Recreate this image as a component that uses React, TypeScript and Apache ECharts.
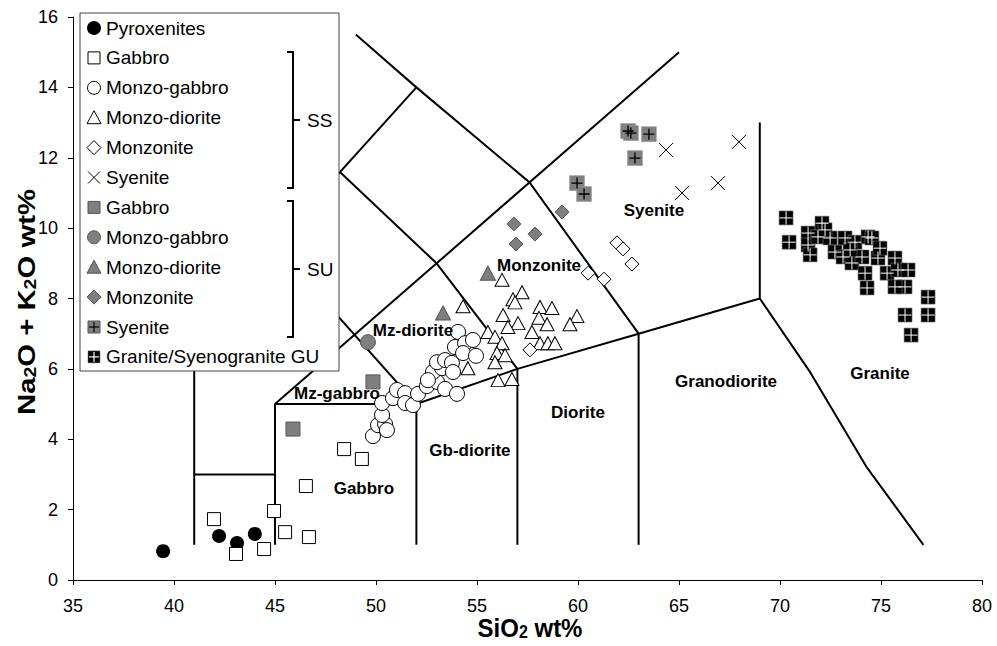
import React, { useEffect, useRef } from "react";
import * as echarts from "echarts";

// Axis ticks
const xTicks = [35, 40, 45, 50, 55, 60, 65, 70, 75, 80];
const yTicks = [0, 2, 4, 6, 8, 10, 12, 14, 16];

// Sample data [SiO2, Na2O+K2O]
const pyroxenites = [[39.46, 0.82], [42.23, 1.25], [43.12, 1.05], [44.0, 1.31]];
const gabbroSS = [[41.98, 1.73], [43.07, 0.74], [44.46, 0.88], [44.95, 1.96], [45.5, 1.36], [46.68, 1.22], [46.53, 2.67], [48.42, 3.72], [49.3, 3.44]];
const monzoGabbroSS = [
  [49.85, 4.09], [50.1, 4.4], [50.45, 4.43], [50.54, 4.26], [50.3, 4.69], [50.3, 5.03], [50.84, 5.17], [51.04, 5.4],
  [51.44, 5.31], [51.44, 5.03], [51.83, 4.97], [52.08, 5.29], [52.52, 5.51], [53.02, 5.63], [53.42, 5.43], [54.01, 5.29],
  [52.82, 5.91], [53.27, 6.02], [53.02, 6.19], [53.42, 6.25], [53.76, 6.17], [53.91, 6.62], [54.06, 7.05], [54.41, 6.73],
  [54.8, 6.82], [54.31, 6.45], [54.95, 6.37], [53.81, 5.91], [52.57, 5.68]];
const monzoDioriteSS = [
  [56.24, 8.53], [57.23, 8.18], [56.78, 7.98], [56.88, 7.89], [54.31, 7.78], [58.12, 7.76], [58.71, 7.73], [59.95, 7.5],
  [56.29, 7.53], [55.54, 7.05], [57.03, 7.3], [56.53, 7.19], [58.07, 7.45], [58.47, 7.27], [59.6, 7.27], [57.72, 7.05],
  [55.89, 6.91], [56.24, 6.73], [58.12, 6.73], [58.51, 6.73], [58.86, 6.73], [55.99, 6.45], [56.39, 6.39], [55.89, 6.19],
  [54.55, 6.02], [56.04, 5.68], [56.73, 5.71]];
const monzoniteSS = [[61.93, 9.58], [62.23, 9.41], [62.67, 8.98], [60.5, 8.72], [61.29, 8.55], [57.62, 6.54]];
const syeniteSS = [[64.36, 12.22], [65.15, 11.0], [66.93, 11.28], [67.97, 12.45]];
const gabbroSU = [[45.89, 4.29], [49.85, 5.63]];
const monzoGabbroSU = [[49.6, 6.76]];
const monzoDioriteSU = [[53.32, 7.59], [55.54, 8.72]];
const monzoniteSU = [[56.83, 10.12], [57.87, 9.83], [56.93, 9.55], [59.21, 10.46]];
const syeniteSU = [[62.48, 12.76], [62.62, 12.7], [63.51, 12.67], [62.82, 11.99], [59.95, 11.28], [60.3, 10.97]];
const graniteGU = [
  [70.3, 10.29], [70.45, 9.6], [71.39, 9.86], [71.39, 9.52], [71.49, 9.24], [72.08, 10.14], [71.88, 9.75], [72.48, 9.72],
  [72.72, 9.32], [73.12, 9.18], [73.22, 9.72], [73.56, 9.01], [73.71, 9.6], [74.36, 9.75], [74.55, 9.72], [74.06, 9.18],
  [74.21, 8.72], [74.31, 8.3], [74.85, 9.15], [75.3, 8.72], [75.69, 9.15], [75.84, 8.81], [76.34, 8.81], [76.19, 8.33],
  [75.69, 8.33], [77.33, 8.04], [77.33, 7.53], [76.19, 7.53], [76.49, 6.96], [74.95, 9.43], [72.23, 9.95], [73.47, 9.38]];

// Classification field boundaries (polylines)
const fieldLines = [
  [[41, 1], [41, 7]],
  [[41, 3], [45, 3]],
  [[45, 1], [45, 5], [52, 5]],
  [[52, 1], [52, 5], [57, 6], [63, 7], [69, 8]],
  [[57, 1], [57, 6]],
  [[63, 1], [63, 7]],
  [[69, 13], [69, 8], [71.5, 5.9], [74.3, 3.2], [77.1, 1]],
  [[45, 5], [65, 15]],
  [[52, 5], [45, 9.5]],
  [[57, 6], [53, 9], [48.2, 11.6]],
  [[63, 7], [57.6, 11.3], [52, 14], [49, 15.5]],
  [[41, 7], [52, 14]],
];

// Field names
const fieldNames = ["Mz-diorite", "Mz-gabbro", "Gabbro", "Gb-diorite", "Diorite", "Granodiorite", "Granite", "Monzonite", "Syenite"];
const fieldNameX = [51.83, 48.07, 49.4, 54.65, 60.0, 67.33, 74.95, 58.07, 63.76];
const fieldNameY = [7.08, 5.31, 2.61, 3.67, 4.77, 5.63, 5.88, 8.95, 10.51];

// Legend
const legendLabels = ["Pyroxenites", "Gabbro", "Monzo-gabbro", "Monzo-diorite", "Monzonite", "Syenite", "Gabbro", "Monzo-gabbro", "Monzo-diorite", "Monzonite", "Syenite", "Granite/Syenogranite GU"];
const legendMarkers = ["circleBlack", "squareOpen", "circleOpen", "triOpen", "diaOpen", "cross", "squareGrey", "circleGrey", "triGrey", "diaGrey", "squareGreyPlus", "squareBlackPlus"];
const groupLabels = ["SS", "SU"];

const GREY = "#7f7f7f";
const GREY_B = "#555";
const FONT = "Liberation Sans, Arial, sans-serif";

function scatter(data: number[][], symbol: string, size: any, fill: string, stroke: string, bw: number, z: number) {
  return {
    type: "scatter",
    data,
    symbol,
    symbolSize: size,
    silent: true,
    z,
    itemStyle: { color: fill, borderColor: stroke, borderWidth: bw, opacity: 1 },
    emphasis: { disabled: true },
  };
}

function legendMarker(kind: string, cx: number, cy: number): any[] {
  const z = 101;
  const s = 6;
  const out: any[] = [];
  const isGrey = kind.indexOf("Grey") >= 0;
  const fill = isGrey ? GREY : "#fff";
  const stroke = isGrey ? GREY_B : "#000";
  if (kind === "circleBlack") out.push({ type: "circle", z, shape: { cx, cy, r: 7 }, style: { fill: "#000" } });
  if (kind === "circleOpen" || kind === "circleGrey") out.push({ type: "circle", z, shape: { cx, cy, r: 6.5 }, style: { fill, stroke, lineWidth: 1 } });
  if (kind === "squareOpen" || kind === "squareGrey" || kind === "squareGreyPlus") out.push({ type: "rect", z, shape: { x: cx - s, y: cy - s, width: 2 * s, height: 2 * s }, style: { fill, stroke, lineWidth: 1 } });
  if (kind === "squareBlackPlus") out.push({ type: "rect", z, shape: { x: cx - s, y: cy - s, width: 2 * s, height: 2 * s }, style: { fill: "#000", stroke: "#666", lineWidth: 0.5 } });
  if (kind === "triOpen" || kind === "triGrey") out.push({ type: "polygon", z, shape: { points: [[cx, cy - 7], [cx + 7, cy + 6], [cx - 7, cy + 6]] }, style: { fill, stroke, lineWidth: 1 } });
  if (kind === "diaOpen" || kind === "diaGrey") out.push({ type: "polygon", z, shape: { points: [[cx, cy - 7], [cx + 7, cy], [cx, cy + 7], [cx - 7, cy]] }, style: { fill, stroke, lineWidth: 1 } });
  if (kind === "cross") {
    out.push({ type: "line", z, shape: { x1: cx - 6, y1: cy - 6, x2: cx + 6, y2: cy + 6 }, style: { stroke: "#000", lineWidth: 1 } });
    out.push({ type: "line", z, shape: { x1: cx + 6, y1: cy - 6, x2: cx - 6, y2: cy + 6 }, style: { stroke: "#000", lineWidth: 1 } });
  }
  if (kind === "squareGreyPlus" || kind === "squareBlackPlus") {
    const c = kind === "squareGreyPlus" ? "#000" : "#fff";
    out.push({ type: "line", z: 102, shape: { x1: cx - 5, y1: cy, x2: cx + 5, y2: cy }, style: { stroke: c, lineWidth: 1.2 } });
    out.push({ type: "line", z: 102, shape: { x1: cx, y1: cy - 5, x2: cx, y2: cy + 5 }, style: { stroke: c, lineWidth: 1.2 } });
  }
  return out;
}

function bracket(top: number, bottom: number, label: string): any[] {
  const z = 101;
  const x = 293;
  const mid = (top + bottom) / 2;
  return [
    { type: "polyline", z, shape: { points: [[287, top], [x, top], [x, bottom], [287, bottom]] }, style: { stroke: "#000", lineWidth: 2, fill: "none" } },
    { type: "line", z, shape: { x1: x, y1: mid, x2: 300, y2: mid }, style: { stroke: "#000", lineWidth: 2 } },
    { type: "text", z, x: 307, y: mid, style: { text: label, font: `19px ${FONT}`, fill: "#000", verticalAlign: "middle", align: "left" } },
  ];
}

export default function App() {
  const ref = useRef<HTMLDivElement>(null);
  useEffect(() => {
    if (!ref.current) return;
    const chart = echarts.init(ref.current, null, { renderer: "svg" });

    const lineSeries = fieldLines.map((pts) => ({
      type: "line",
      data: pts,
      showSymbol: false,
      symbol: "none",
      silent: true,
      z: 1,
      lineStyle: { color: "#000", width: 2 },
      emphasis: { disabled: true },
    }));

    const plusPath = "path://M5,0L5,10M0,5L10,5";

    const series: any[] = [
      ...lineSeries,
      scatter(pyroxenites, "circle", 14, "#000", "#000", 0, 3),
      scatter(gabbroSS, "rect", 13, "#fff", "#000", 1, 3),
      scatter(monzoGabbroSS, "circle", 15, "#fff", "#000", 1, 3),
      scatter(monzoDioriteSS, "triangle", [14, 13], "#fff", "#000", 1, 3),
      scatter(monzoniteSS, "diamond", 14, "#fff", "#000", 1, 3),
      scatter(syeniteSS, "path://M0,0L10,10M10,0L0,10", 14, "none", "#000", 1, 3),
      scatter(gabbroSU, "rect", 14, GREY, GREY_B, 1, 3),
      scatter(monzoGabbroSU, "circle", 15, GREY, GREY_B, 1, 3),
      scatter(monzoDioriteSU, "triangle", [15, 14], GREY, GREY_B, 1, 3),
      scatter(monzoniteSU, "diamond", 14, GREY, GREY_B, 1, 3),
      scatter(syeniteSU, "rect", 15, GREY, "#9a9a9a", 0.5, 3),
      scatter(syeniteSU, plusPath, 11, "none", "#000", 1.3, 4),
      scatter(graniteGU, "rect", 14, "#000", "#777", 0.6, 3),
      scatter(graniteGU, plusPath, 13, "none", "#fff", 1, 4),
    ];

    const legendEls: any[] = [
      { type: "rect", z: 100, shape: { x: 80, y: 13, width: 259, height: 358 }, style: { fill: "#fff", stroke: "#444", lineWidth: 1 } },
    ];
    legendLabels.forEach((lab, i) => {
      const yy = 28 + 29.9 * i;
      legendEls.push(...legendMarker(legendMarkers[i], 94, yy));
      legendEls.push({ type: "text", z: 101, x: 106, y: yy, style: { text: lab, font: `19px ${FONT}`, fill: "#000", verticalAlign: "middle", align: "left" } });
    });
    legendEls.push(...bracket(52, 188, groupLabels[0]));
    legendEls.push(...bracket(201, 337, groupLabels[1]));

    const titleRich = {
      a: { fontSize: 24, fontWeight: "bold", fontFamily: FONT, fill: "#000", lineHeight: 24, verticalAlign: "bottom" },
      s: { fontSize: 16, fontWeight: "bold", fontFamily: FONT, fill: "#000", lineHeight: 16, verticalAlign: "bottom" },
    };

    const titles: any[] = [
      {
        type: "text", z: 101, x: 530, y: 628, scaleY: 1.1,
        style: { text: "{a|SiO}{s|2}{a| wt%}", rich: titleRich, align: "center", verticalAlign: "middle" },
      },
      {
        type: "text", z: 101, x: 27, y: 302, rotation: Math.PI / 2, scaleX: 1.22,
        style: { text: "{a|Na}{s|2}{a|O + K}{s|2}{a|O wt%}", rich: titleRich, align: "center", verticalAlign: "middle" },
      },
    ];

    chart.setOption({
      animation: false,
      grid: { left: 73, right: 15, top: 17, bottom: 66, containLabel: false },
      xAxis: {
        type: "value",
        min: xTicks[0],
        max: xTicks[xTicks.length - 1],
        interval: xTicks[1] - xTicks[0],
        axisLine: { show: true, lineStyle: { color: "#000", width: 1 } },
        axisTick: { show: true, length: 5, lineStyle: { color: "#000" } },
        axisLabel: { color: "#000", fontSize: 18, fontFamily: FONT, margin: 17 },
        splitLine: { show: false },
      },
      yAxis: {
        type: "value",
        min: yTicks[0],
        max: yTicks[yTicks.length - 1],
        interval: yTicks[1] - yTicks[0],
        axisLine: { show: true, lineStyle: { color: "#000", width: 1 } },
        axisTick: { show: true, length: 5, lineStyle: { color: "#000" } },
        axisLabel: { color: "#000", fontSize: 18, fontFamily: FONT, margin: 15 },
        splitLine: { show: false },
      },
      series,
      graphic: [...legendEls, ...titles],
    });

    // Field names placed through the chart's own scales
    const fieldTexts = fieldNames.map((n, i) => {
      const p = chart.convertToPixel({ gridIndex: 0 }, [fieldNameX[i], fieldNameY[i]]) as number[];
      return {
        type: "text", z: 90, x: p[0], y: p[1],
        style: { text: n, font: `bold 17px ${FONT}`, fill: "#000", align: "center", verticalAlign: "middle" },
      };
    });
    chart.setOption({ graphic: [...legendEls, ...titles, ...fieldTexts] });

    return () => chart.dispose();
  }, []);

  return <div ref={ref} style={{ position: "fixed", left: 0, top: 0, width: 997, height: 646, background: "#fff" }} />;
}
